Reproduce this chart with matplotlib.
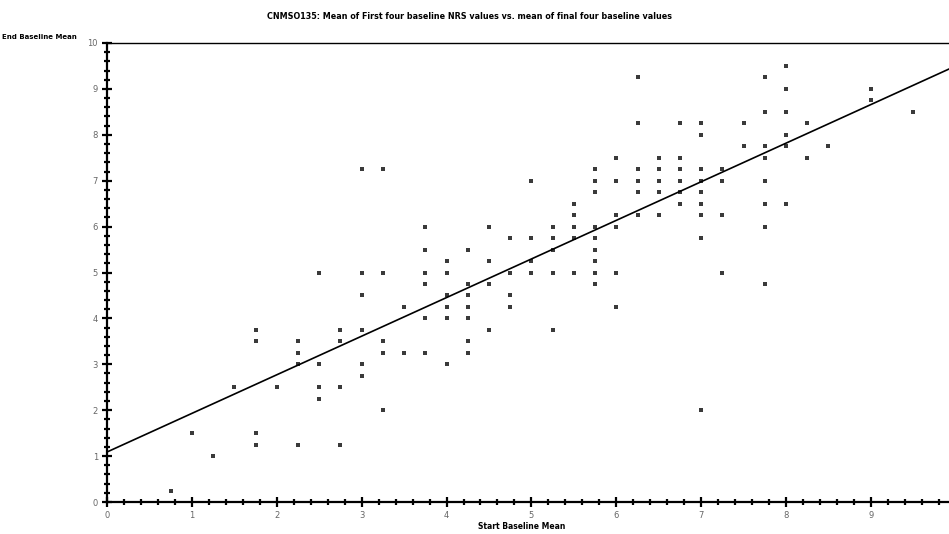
import numpy as np
import matplotlib
matplotlib.use('Agg')
import matplotlib.pyplot as plt
from matplotlib.ticker import MultipleLocator

# mean of first four baseline values (x) and mean of final four (y)
start_mean = [0.75, 1.0, 1.25, 1.5,
              1.75, 1.75, 1.75, 1.75,
              2.0,
              2.25, 2.25, 2.25, 2.25,
              2.5, 2.5, 2.5, 2.5,
              2.75, 2.75, 2.75, 2.75,
              3.0, 3.0, 3.0, 3.0, 3.0, 3.0,
              3.25, 3.25, 3.25, 3.25, 3.25,
              3.5, 3.5,
              3.75, 3.75, 3.75, 3.75, 3.75, 3.75,
              4.0, 4.0, 4.0, 4.0, 4.0, 4.0,
              4.25, 4.25, 4.25, 4.25, 4.25, 4.25, 4.25,
              4.5, 4.5, 4.5, 4.5,
              4.75, 4.75, 4.75, 4.75,
              5.0, 5.0, 5.0, 5.0,
              5.25, 5.25, 5.25, 5.25, 5.25,
              5.5, 5.5, 5.5, 5.5, 5.5,
              5.75, 5.75, 5.75, 5.75, 5.75, 5.75, 5.75, 5.75, 5.75,
              6.0, 6.0, 6.0, 6.0, 6.0, 6.0,
              6.25, 6.25, 6.25, 6.25, 6.25, 6.25,
              6.5, 6.5, 6.5, 6.5, 6.5,
              6.75, 6.75, 6.75, 6.75, 6.75, 6.75,
              7.0, 7.0, 7.0, 7.0, 7.0, 7.0, 7.0, 7.0, 7.0,
              7.25, 7.25, 7.25, 7.25,
              7.5, 7.5,
              7.75, 7.75, 7.75, 7.75, 7.75, 7.75, 7.75, 7.75,
              8.0, 8.0, 8.0, 8.0, 8.0, 8.0,
              8.25, 8.25,
              8.5,
              9.0, 9.0,
              9.5]
end_mean = [0.25, 1.5, 1.0, 2.5,
            3.75, 3.5, 1.5, 1.25,
            2.5,
            3.5, 3.25, 3.0, 1.25,
            5.0, 3.0, 2.5, 2.25,
            3.75, 3.5, 2.5, 1.25,
            7.25, 5.0, 4.5, 3.75, 3.0, 2.75,
            7.25, 5.0, 3.5, 3.25, 2.0,
            4.25, 3.25,
            6.0, 5.5, 5.0, 4.75, 4.0, 3.25,
            5.25, 5.0, 4.5, 4.25, 4.0, 3.0,
            5.5, 4.75, 4.5, 4.25, 4.0, 3.5, 3.25,
            6.0, 5.25, 4.75, 3.75,
            5.75, 5.0, 4.5, 4.25,
            7.0, 5.75, 5.25, 5.0,
            6.0, 5.75, 5.5, 5.0, 3.75,
            6.5, 6.25, 6.0, 5.75, 5.0,
            7.25, 7.0, 6.75, 6.0, 5.75, 5.5, 5.25, 5.0, 4.75,
            7.5, 7.0, 6.25, 6.0, 5.0, 4.25,
            9.25, 8.25, 7.25, 7.0, 6.75, 6.25,
            7.5, 7.25, 7.0, 6.75, 6.25,
            8.25, 7.5, 7.25, 7.0, 6.75, 6.5,
            8.25, 8.0, 7.25, 7.0, 6.75, 6.5, 6.25, 5.75, 2.0,
            7.25, 7.0, 6.25, 5.0,
            8.25, 7.75,
            9.25, 8.5, 7.75, 7.5, 7.0, 6.5, 6.0, 4.75,
            9.5, 9.0, 8.5, 8.0, 7.75, 6.5,
            8.25, 7.5,
            7.75,
            9.0, 8.75,
            8.5]

# fitted line
intercept = 1.09
slope = 0.841

titre = "CNMSO135: Mean of First four baseline NRS values vs. mean of final four baseline values"

plt.rcParams['font.family'] = 'DejaVu Sans'
fig = plt.figure(figsize=(9.49, 5.34), dpi=100)
ax = fig.add_axes([0.1128, 0.0599, 0.8872, 0.8596])

ax.plot(start_mean, end_mean, 's', color='#3a3a3a', markersize=2.2, markeredgewidth=0)

xs = np.array([0, 9.92])
ax.plot(xs, intercept + slope * xs, color='black', linewidth=1.2)

ax.set_xlim(0, 9.92)
ax.set_ylim(0, 10)
ax.xaxis.set_major_locator(MultipleLocator(1))
ax.xaxis.set_minor_locator(MultipleLocator(0.2))
ax.yaxis.set_major_locator(MultipleLocator(1))
ax.yaxis.set_minor_locator(MultipleLocator(0.2))
ax.tick_params(which='major', direction='inout', length=7, width=1.6, labelsize=6,
               labelcolor='#666666', pad=3)
ax.tick_params(which='minor', direction='inout', length=5, width=1.6)
ax.spines['right'].set_visible(False)
ax.spines['left'].set_linewidth(1.6)
ax.spines['bottom'].set_linewidth(1.6)
ax.spines['top'].set_linewidth(1.0)

fig.text(0.495, 0.97, titre, ha='center', va='center', fontsize=5.8, fontweight='bold')
fig.text(0.002, 0.93, 'End Baseline Mean', ha='left', va='center', fontsize=5, fontweight='bold')
fig.text(0.55, 0.006, 'Start Baseline Mean', ha='center', va='bottom', fontsize=5.5, fontweight='bold')

fig.savefig('out.png', dpi=100)
